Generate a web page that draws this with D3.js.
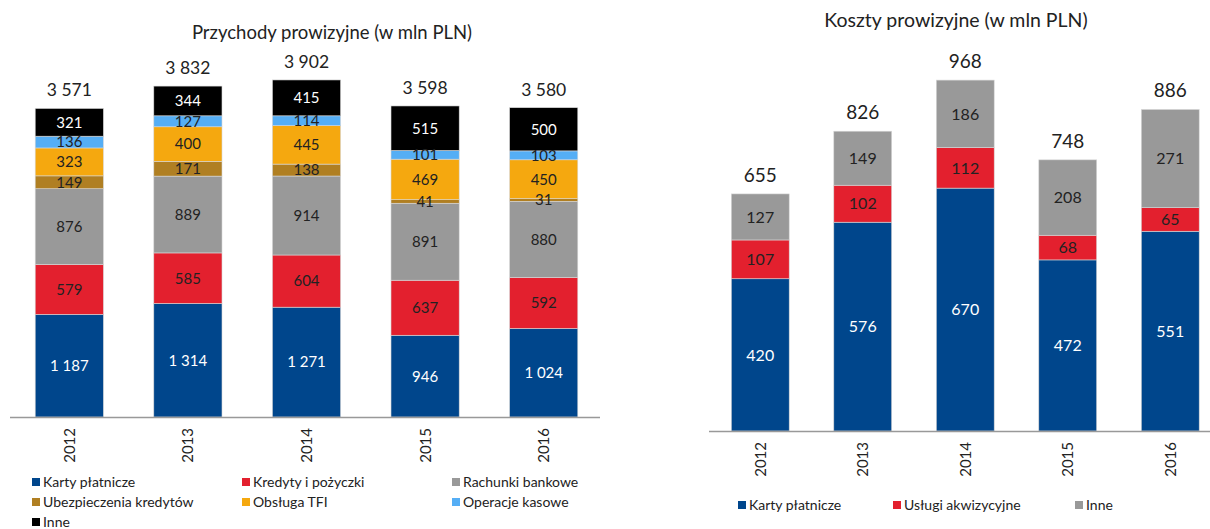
<!DOCTYPE html>
<html>
<head>
<meta charset="utf-8">
<script src="https://cdn.jsdelivr.net/npm/d3@7"></script>
<style>
  body { margin: 0; background: #fff; }
  svg text { font-family: Lato, "Noto Sans", sans-serif; }
</style>
</head>
<body>
<svg></svg>
<script>
// dane - przychody
const years = ["2012", "2013", "2014", "2015", "2016"];

const incomeSeries = ["Karty płatnicze", "Kredyty i pożyczki", "Rachunki bankowe",
    "Ubezpieczenia kredytów", "Obsługa TFI", "Operacje kasowe", "Inne"];
const incomeColors = ["#00468c", "#e3202e", "#999999", "#b07f22", "#f5a80f", "#55aef5", "#000000"];
const incomeCards = [1187, 1314, 1271, 946, 1024];
const incomeLoans = [579, 585, 604, 637, 592];
const incomeAccounts = [876, 889, 914, 891, 880];
const incomeInsurance = [149, 171, 138, 41, 31];
const incomeTFI = [323, 400, 445, 469, 450];
const incomeCash = [136, 127, 114, 101, 103];
const incomeOther = [321, 344, 415, 515, 500];
const incomeTotals = [3571, 3832, 3902, 3598, 3580];

// dane - koszty
const costSeries = ["Karty płatnicze", "Usługi akwizycyjne", "Inne"];
const costColors = ["#00468c", "#e3202e", "#999999"];
const costCards = [420, 576, 670, 472, 551];
const costAcq = [107, 102, 112, 68, 65];
const costOther = [127, 149, 186, 208, 271];
const costTotals = [655, 826, 968, 748, 886];

const W = 1210, H = 529;
const svg = d3.select("svg").attr("width", W).attr("height", H);
const fmt = d3.formatLocale({ decimal: ",", thousands: " ", grouping: [3], currency: ["", " zł"] }).format(",d");

function drawChart(cfg) {
    const g = svg.append("g");
    const rows = years.map((y, i) => {
        const r = { year: y };
        cfg.series.forEach((s, k) => { r[s] = cfg.values[k][i]; });
        return r;
    });
    const stack = d3.stack().keys(cfg.series)(rows);

    const x = d3.scaleBand().domain(years).range(cfg.xRange).paddingInner(cfg.pad).paddingOuter(cfg.pad / 2);
    const y = d3.scaleLinear().domain(cfg.yDomain).range(cfg.yRange);

    // tytuł
    g.append("text")
        .attr("x", cfg.titleX).attr("y", cfg.titleY)
        .attr("text-anchor", "middle")
        .style("font-size", cfg.titleSize).style("fill", "#222")
        .text(cfg.title);

    // słupki
    const layer = g.selectAll("g.layer").data(stack).join("g")
        .attr("class", "layer")
        .style("fill", (d, k) => cfg.colors[k]);

    layer.selectAll("rect").data(d => d).join("rect")
        .attr("x", d => x(d.data.year))
        .attr("width", x.bandwidth())
        .attr("y", d => y(d[1]))
        .attr("height", d => y(d[0]) - y(d[1]))
        .style("stroke", "#d8d8d8").style("stroke-width", 0.6);

    // etykiety w słupkach
    stack.forEach((s, k) => {
        g.selectAll(null).data(s).join("text")
            .attr("x", d => x(d.data.year) + x.bandwidth() / 2)
            .attr("y", d => y((d[0] + d[1]) / 2))
            .attr("dy", "0.36em")
            .attr("text-anchor", "middle")
            .style("font-size", cfg.labelSize)
            .style("fill", cfg.labelColors[k])
            .text(d => fmt(d[1] - d[0]));
    });

    // sumy
    g.selectAll(null).data(years).join("text")
        .attr("x", d => x(d) + x.bandwidth() / 2)
        .attr("y", (d, i) => y(stack[stack.length - 1][i][1]) - 12)
        .attr("text-anchor", "middle")
        .style("font-size", cfg.totalSize).style("fill", "#222")
        .text((d, i) => fmt(cfg.totals[i]));

    // oś X
    g.append("line")
        .attr("x1", cfg.axisX[0]).attr("x2", cfg.axisX[1])
        .attr("y1", y(0) + 0.5).attr("y2", y(0) + 0.5)
        .style("stroke", "#999").style("stroke-width", 1.5);

    g.selectAll(null).data(years).join("text")
        .attr("transform", d => `translate(${x(d) + x.bandwidth() / 2},${y(0) + cfg.yearGap}) rotate(-90)`)
        .attr("dy", "0.36em")
        .attr("text-anchor", "end")
        .style("font-size", "15px").style("fill", "#222")
        .text(d => d);

    // legenda
    const leg = g.selectAll("g.leg").data(cfg.series).join("g")
        .attr("class", "leg")
        .attr("transform", (d, i) => `translate(${cfg.legX[i % cfg.legCols]},${cfg.legY + Math.floor(i / cfg.legCols) * 20})`);
    leg.append("rect")
        .attr("x", 0).attr("y", -4).attr("width", 8).attr("height", 8)
        .style("fill", (d, i) => cfg.colors[i]);
    leg.append("text")
        .attr("x", 11).attr("dy", "0.36em")
        .style("font-size", "14px").style("fill", "#222")
        .text(d => d);
}

drawChart({
    title: "Przychody prowizyjne (w mln PLN)",
    titleX: 332, titleY: 39, titleSize: "18.5px",
    series: incomeSeries,
    colors: incomeColors,
    values: [incomeCards, incomeLoans, incomeAccounts, incomeInsurance, incomeTFI, incomeCash, incomeOther],
    totals: incomeTotals,
    totalSize: "17.5px",
    labelColors: ["#fff", "#222", "#222", "#222", "#222", "#222", "#fff"],
    labelSize: "15px",
    xRange: [10, 603], pad: 0.425,
    yDomain: [0, 4000], yRange: [417, 71.4],
    axisX: [10, 600],
    yearGap: 11,
    legX: [32, 242, 452], legCols: 3, legY: 482
});

drawChart({
    title: "Koszty prowizyjne (w mln PLN)",
    titleX: 956, titleY: 27, titleSize: "19.5px",
    series: costSeries,
    colors: costColors,
    values: [costCards, costAcq, costOther],
    totals: costTotals,
    totalSize: "19px",
    labelColors: ["#fff", "#222", "#222"],
    labelSize: "16px",
    xRange: [709, 1221.5], pad: 0.435,
    yDomain: [0, 1000], yRange: [431, 68.5],
    axisX: [709, 1210],
    yearGap: 11,
    legX: [738, 893, 1075], legCols: 3, legY: 505
});
</script>
</body>
</html>
